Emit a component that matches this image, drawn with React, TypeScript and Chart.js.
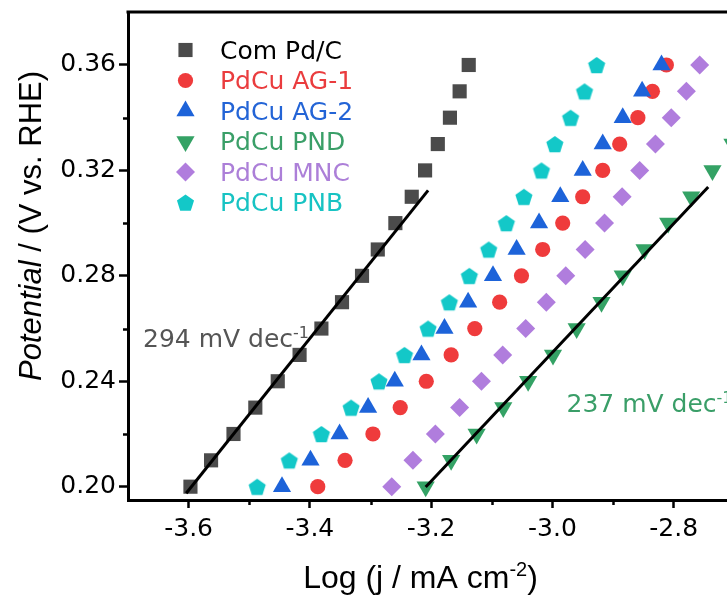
import React, { useEffect, useRef } from 'react';
import { Chart, registerables } from 'chart.js';

Chart.register(...registerables);

// ---------------- data ----------------
const POTENTIAL = [0.20, 0.21, 0.22, 0.23, 0.24, 0.25, 0.26, 0.27, 0.28, 0.29, 0.30, 0.31, 0.32, 0.33, 0.34, 0.35, 0.36];

const COM_PDC = [-3.597, -3.563, -3.526, -3.490, -3.453, -3.417, -3.381, -3.347, -3.314, -3.288, -3.259, -3.232, -3.210, -3.189, -3.169, -3.153, -3.138];
const PDCU_AG1 = [-3.387, -3.342, -3.296, -3.251, -3.208, -3.167, -3.128, -3.087, -3.051, -3.016, -2.983, -2.950, -2.917, -2.889, -2.859, -2.835, -2.812];
const PDCU_AG2 = [-3.446, -3.399, -3.351, -3.304, -3.260, -3.216, -3.178, -3.139, -3.098, -3.059, -3.022, -2.987, -2.950, -2.917, -2.884, -2.852, -2.820];
const PDCU_PND = [-3.209, -3.167, -3.125, -3.081, -3.040, -2.999, -2.960, -2.919, -2.884, -2.848, -2.809, -2.771, -2.736, -2.703];
const PDCU_MNC = [-3.265, -3.230, -3.193, -3.153, -3.117, -3.082, -3.044, -3.010, -2.978, -2.946, -2.914, -2.885, -2.856, -2.830, -2.804, -2.779, -2.757];
const PDCU_PNB = [-3.487, -3.434, -3.381, -3.332, -3.286, -3.244, -3.205, -3.170, -3.137, -3.105, -3.076, -3.047, -3.018, -2.996, -2.970, -2.947, -2.927];

const COM_FIT_X = [-3.604, -3.205];
const COM_FIT_Y = [0.1975, 0.3124];
const PND_FIT_X = [-3.209, -2.743];
const PND_FIT_Y = [0.1999, 0.3137];

const LABELS = ['Com Pd/C', 'PdCu AG-1', 'PdCu AG-2', 'PdCu PND', 'PdCu MNC', 'PdCu PNB'];
const SLOPE_LABELS = ['294 mV dec', '237 mV dec'];

const X_MAJOR = [-3.6, -3.4, -3.2, -3.0, -2.8];
const X_MINOR = [-3.5, -3.3, -3.1, -2.9];
const Y_MAJOR = [0.20, 0.24, 0.28, 0.32, 0.36];
const Y_MINOR = [0.22, 0.26, 0.30, 0.34];
const X_MIN = -3.7;
const X_MAX = -2.712;
const Y_MIN = 0.19495;
const Y_MAX = 0.3801;

// ---------------- styles ----------------
const SANS = '"DejaVu Sans", sans-serif';
const ARIAL = '"Liberation Sans", Arial, sans-serif';

type Marker = { style: string; r: number; rot: number; color: string; text: string };
const MARKERS: Marker[] = [
  { style: 'rect', r: 10, rot: 0, color: '#4b4b4b', text: '#000000' },
  { style: 'circle', r: 7.6, rot: 0, color: '#ef3b3c', text: '#ea3c3e' },
  { style: 'triangle', r: 10.5, rot: 0, color: '#1d63d9', text: '#2364d6' },
  { style: 'triangle', r: 10.5, rot: 180, color: '#34a265', text: '#3a9f68' },
  { style: 'rectRot', r: 9.5, rot: 0, color: '#b07ddd', text: '#ac7fd8' },
  { style: 'pentagon', r: 9, rot: 0, color: '#13c8c8', text: '#17c3c3' },
];

function pentPath(ctx: CanvasRenderingContext2D, cx: number, cy: number, R: number) {
  ctx.beginPath();
  for (let i = 0; i < 5; i++) {
    const a = -Math.PI / 2 + (i * 2 * Math.PI) / 5;
    const px = cx + R * Math.cos(a);
    const py = cy + R * Math.sin(a);
    if (i === 0) ctx.moveTo(px, py);
    else ctx.lineTo(px, py);
  }
  ctx.closePath();
}

function makePentagon(color: string, R: number): HTMLCanvasElement {
  const c = document.createElement('canvas');
  const s = Math.ceil(R * 2 + 2);
  c.width = s;
  c.height = s;
  const g = c.getContext('2d')!;
  g.fillStyle = color;
  pentPath(g, s / 2, s / 2 + R * 0.1, R);
  g.fill();
  return c;
}

function drawMarker(ctx: CanvasRenderingContext2D, m: Marker, x: number, y: number) {
  ctx.save();
  ctx.fillStyle = m.color;
  ctx.beginPath();
  const r = m.r;
  if (m.style === 'rect') {
    const s = Math.SQRT1_2 * r;
    ctx.rect(x - s, y - s, 2 * s, 2 * s);
  } else if (m.style === 'circle') {
    ctx.arc(x, y, r, 0, Math.PI * 2);
  } else if (m.style === 'triangle') {
    const rad = (m.rot * Math.PI) / 180;
    for (let i = 0; i < 3; i++) {
      const a = rad + (i * 2 * Math.PI) / 3;
      const px = x + Math.sin(a) * r;
      const py = y - Math.cos(a) * r;
      if (i === 0) ctx.moveTo(px, py);
      else ctx.lineTo(px, py);
    }
    ctx.closePath();
  } else if (m.style === 'rectRot') {
    ctx.moveTo(x - r, y);
    ctx.lineTo(x, y - r);
    ctx.lineTo(x + r, y);
    ctx.lineTo(x, y + r);
    ctx.closePath();
  } else if (m.style === 'pentagon') {
    pentPath(ctx, x, y + r * 0.1, r);
  }
  ctx.fill();
  ctx.restore();
}

type Part = { t: string; italic?: boolean; sup?: boolean };
function drawRich(
  ctx: CanvasRenderingContext2D,
  parts: Part[],
  x: number,
  y: number,
  size: number,
  family: string,
  color: string,
  center: boolean,
) {
  const fontFor = (p: Part) => `${p.italic ? 'italic ' : ''}${p.sup ? Math.round(size * 0.62) : size}px ${family}`;
  let total = 0;
  parts.forEach((p) => {
    ctx.font = fontFor(p);
    total += ctx.measureText(p.t).width;
  });
  let cx = center ? x - total / 2 : x;
  ctx.fillStyle = color;
  ctx.textAlign = 'left';
  ctx.textBaseline = 'alphabetic';
  parts.forEach((p) => {
    ctx.font = fontFor(p);
    ctx.fillText(p.t, cx, p.sup ? y - size * 0.36 : y);
    cx += ctx.measureText(p.t).width;
  });
}

const decorPlugin = {
  id: 'decor',
  afterDraw(chart: any) {
    const { ctx, chartArea, scales } = chart;
    const xs = scales.x;
    const ys = scales.y;
    ctx.save();
    ctx.strokeStyle = '#000';
    // top frame line
    ctx.lineWidth = 3;
    ctx.beginPath();
    ctx.moveTo(chartArea.left - 1.5, chartArea.top);
    ctx.lineTo(chartArea.right, chartArea.top);
    ctx.stroke();
    // minor ticks
    ctx.lineWidth = 2.5;
    X_MINOR.forEach((v) => {
      const px = Math.round(xs.getPixelForValue(v)) + 0.5;
      ctx.beginPath();
      ctx.moveTo(px, chartArea.bottom);
      ctx.lineTo(px, chartArea.bottom + 5);
      ctx.stroke();
    });
    Y_MINOR.forEach((v) => {
      const py = Math.round(ys.getPixelForValue(v)) + 0.5;
      ctx.beginPath();
      ctx.moveTo(chartArea.left, py);
      ctx.lineTo(chartArea.left - 5, py);
      ctx.stroke();
    });

    // legend
    const lx = chartArea.left + 57.5;
    const ly0 = chartArea.top + 38;
    const dy = 30.5;
    MARKERS.forEach((m, i) => {
      const cy = ly0 + i * dy;
      drawMarker(ctx, m, lx, cy);
      ctx.font = `25px ${SANS}`;
      ctx.fillStyle = m.text;
      ctx.textAlign = 'left';
      ctx.textBaseline = 'alphabetic';
      ctx.fillText(LABELS[i], lx + 34.5, cy + 8.5);
    });

    // slope annotations
    drawRich(ctx, [{ t: SLOPE_LABELS[0] }, { t: '-1', sup: true }], 143, 346.5, 25, SANS, '#555555', false);
    drawRich(ctx, [{ t: SLOPE_LABELS[1] }, { t: '-1', sup: true }], 566.5, 411.5, 25, SANS, '#3a9e68', false);

    // axis titles
    drawRich(
      ctx,
      [{ t: 'Log (j / mA cm' }, { t: '-2', sup: true }, { t: ')' }],
      420.5,
      588,
      32,
      ARIAL,
      '#000',
      true,
    );
    ctx.save();
    ctx.translate(41, 226);
    ctx.rotate(-Math.PI / 2);
    drawRich(ctx, [{ t: 'Potential', italic: true }, { t: ' / (V vs. RHE)' }], 0, 0, 31, ARIAL, '#000', true);
    ctx.restore();

    ctx.restore();
  },
};

export default function App() {
  const ref = useRef<HTMLCanvasElement>(null);

  useEffect(() => {
    const canvas = ref.current!;
    const pent = makePentagon(MARKERS[5].color, MARKERS[5].r);
    const series = [COM_PDC, PDCU_AG1, PDCU_AG2, PDCU_PND, PDCU_MNC, PDCU_PNB];

    const scatterSets = series.map((xs, i) => {
      const m = MARKERS[i];
      return {
        type: 'scatter' as const,
        label: LABELS[i],
        data: xs.map((x, k) => ({ x, y: POTENTIAL[k] })),
        pointStyle: m.style === 'pentagon' ? pent : m.style,
        pointRadius: m.r,
        pointRotation: m.rot,
        backgroundColor: m.color,
        borderColor: m.color,
        pointBorderWidth: 0,
        borderWidth: 0,
        showLine: false,
        order: 10 - i,
      };
    });

    const fitSets = [
      { xs: COM_FIT_X, ys: COM_FIT_Y },
      { xs: PND_FIT_X, ys: PND_FIT_Y },
    ].map((f) => ({
      type: 'line' as const,
      label: 'fit',
      data: f.xs.map((x, k) => ({ x, y: f.ys[k] })),
      borderColor: '#000',
      borderWidth: 3,
      pointRadius: 0,
      fill: false,
      tension: 0,
      order: 0,
    }));

    const chart = new Chart(canvas, {
      type: 'scatter',
      data: { datasets: [...scatterSets, ...fitSets] as any },
      options: {
        responsive: false,
        animation: false,
        devicePixelRatio: 1,
        layout: { autoPadding: false, padding: { top: 12, right: 0, bottom: 0, left: 0 } },
        plugins: { legend: { display: false }, tooltip: { enabled: false } },
        scales: {
          x: {
            type: 'linear',
            position: 'bottom',
            min: X_MIN,
            max: X_MAX,
            afterBuildTicks: (s: any) => {
              s.ticks = X_MAJOR.map((v) => ({ value: v }));
            },
            afterFit: (s: any) => {
              s.height = 96;
              s.paddingLeft = 0;
              s.paddingRight = 0;
            },
            ticks: {
              font: { family: SANS, size: 25 },
              color: '#000',
              padding: 6,
              maxRotation: 0,
              autoSkip: false,
              callback: (v: any) => Number(v).toFixed(1),
            },
            grid: { drawOnChartArea: false, drawTicks: true, tickLength: 8, tickWidth: 2.5, tickColor: '#000' },
            border: { display: true, color: '#000', width: 3 },
          },
          y: {
            type: 'linear',
            position: 'left',
            min: Y_MIN,
            max: Y_MAX,
            afterBuildTicks: (s: any) => {
              s.ticks = Y_MAJOR.map((v) => ({ value: v }));
            },
            afterFit: (s: any) => {
              s.width = 128;
              s.paddingTop = 0;
              s.paddingBottom = 0;
            },
            ticks: {
              font: { family: SANS, size: 25 },
              color: '#000',
              padding: 3,
              autoSkip: false,
              callback: (v: any) => Number(v).toFixed(2),
            },
            grid: { drawOnChartArea: false, drawTicks: true, tickLength: 9, tickWidth: 2.5, tickColor: '#000' },
            border: { display: true, color: '#000', width: 3 },
          },
        },
      },
      plugins: [decorPlugin],
    });
    return () => chart.destroy();
  }, []);

  return (
    <div
      style={{
        position: 'fixed',
        left: 0,
        top: 0,
        width: 727,
        height: 596,
        overflow: 'hidden',
        background: '#ffffff',
      }}
    >
      <canvas ref={ref} width={727} height={596} style={{ display: 'block', width: 727, height: 596 }} />
    </div>
  );
}
